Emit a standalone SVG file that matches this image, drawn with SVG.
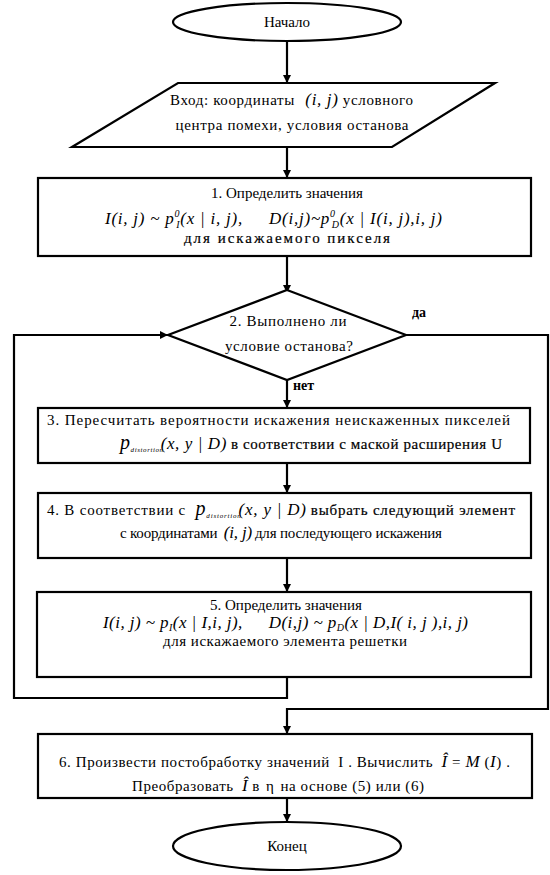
<svg xmlns="http://www.w3.org/2000/svg" width="550" height="875" viewBox="0 0 550 875">
<defs>
<marker id="ah" markerWidth="8" markerHeight="8" refX="8" refY="4" orient="auto" markerUnits="userSpaceOnUse">
<path d="M0,0 L8,4 L0,8 Z" fill="#000"/>
</marker>
<style>
.sh{fill:#fff;stroke:#000;stroke-width:2.2}
.t{font-family:"Liberation Serif","Times New Roman",serif;font-size:15px;fill:#000;text-anchor:middle}
.l{font-family:"Liberation Serif","Times New Roman",serif;font-size:15px;fill:#000}
.m{font-family:"Liberation Serif","Times New Roman",serif;font-size:17px;font-style:italic;fill:#000}
.n{font-style:normal;font-size:15px}
.h{stroke:#000;stroke-width:0.2}
.s{font-size:10px}
.c{fill:none;stroke:#000;stroke-width:2.2}
.lb{font-family:"Liberation Serif","Times New Roman",serif;font-size:14px;font-weight:bold;fill:#000}
</style>
</defs>
<g id="connectors">
<path class="c" d="M287,42 V83" marker-end="url(#ah)"/>
<path class="c" d="M287,147 V178" marker-end="url(#ah)"/>
<path class="c" d="M287,256 V293" marker-end="url(#ah)"/>
<path class="c" d="M287,380 V408" marker-end="url(#ah)"/>
<path class="c" d="M287,463 V493" marker-end="url(#ah)"/>
<path class="c" d="M287,558 V592" marker-end="url(#ah)"/>
<path class="c" d="M287,677 V698 H14 V335 H168" marker-end="url(#ah)"/>
<path class="c" d="M406,335 H548 V709 H287 V734" marker-end="url(#ah)"/>
<path class="c" d="M287,798 V822" marker-end="url(#ah)"/>
<text class="lb" x="412" y="317">да</text>
<text class="lb" x="293" y="390">нет</text>
</g>
<g id="start">
<ellipse class="sh" cx="287" cy="22" rx="114" ry="19"/>
<text class="t" x="287" y="27">Начало</text>
</g>
<g id="input">
<polygon class="sh" points="178,83 495,83 392,147 72,147"/>
<text class="l" x="170" y="105" textLength="243" lengthAdjust="spacing">Вход: координаты <tspan class="m" dx="6">(i, j)</tspan> условного</text>
<text class="t" x="292" y="130" textLength="233" lengthAdjust="spacing">центра помехи, условия останова</text>
</g>
<g id="step1">
<rect class="sh" x="38" y="178" width="493" height="78"/>
<text class="t" x="287" y="198">1. Определить значения</text>
<text class="m" x="105" y="224" textLength="337" lengthAdjust="spacing">I(i, j) ~ p<tspan class="s" dy="-7">0</tspan><tspan class="s" dx="-4" dy="11">I</tspan><tspan dy="-4">(x | i, j),</tspan><tspan dx="26">D(i,j)~p</tspan><tspan class="s" dy="-7">0</tspan><tspan class="s" dx="-4" dy="11">D</tspan><tspan dy="-4">(x | I(i, j),i, j)</tspan></text>
<text class="t h" x="287" y="243" textLength="206" lengthAdjust="spacing">для искажаемого  пикселя</text>
</g>
<g id="decision">
<polygon class="sh" points="287,290 406,335 287,380 168,335"/>
<text class="t" x="288" y="326" textLength="117" lengthAdjust="spacing">2. Выполнено ли</text>
<text class="t" x="289" y="351" textLength="128" lengthAdjust="spacing">условие останова?</text>
</g>
<g id="step3">
<rect class="sh" x="38" y="408" width="492" height="55"/>
<text class="l" x="47" y="425" textLength="463" lengthAdjust="spacing">3. Пересчитать вероятности искажения неискаженных пикселей</text>
<text class="m" x="120" y="449" textLength="382" lengthAdjust="spacing"><tspan font-size="20">p</tspan><tspan font-size="7" dy="3">distortion</tspan><tspan dy="-3" dx="-3">(x, y | D)</tspan><tspan class="n h" dx="4">в соответствии с маской расширения U</tspan></text>
</g>
<g id="step4">
<rect class="sh" x="38" y="493" width="493" height="65"/>
<text class="m" x="47" y="515" textLength="468" lengthAdjust="spacing"><tspan class="n">4. В соответствии с </tspan><tspan font-size="20" dx="5">p</tspan><tspan font-size="7" dy="3">distortion</tspan><tspan dy="-3" dx="-3">(x, y | D)</tspan><tspan class="n h" dx="4">выбрать следующий элемент</tspan></text>
<text class="l" x="120" y="538" textLength="322" lengthAdjust="spacing"><tspan>с координатами </tspan><tspan class="m" dx="3">(i, j)</tspan><tspan dx="3">для последующего  искажения</tspan></text>
</g>
<g id="step5">
<rect class="sh" x="37" y="592" width="494" height="85"/>
<text class="t" x="286" y="610">5. Определить значения</text>
<text class="m" x="103" y="628" textLength="365" lengthAdjust="spacing">I(i, j) ~ p<tspan class="s" dy="3">I</tspan><tspan dy="-3">(x | I,i, j),</tspan><tspan dx="26">D(i,j) ~ p</tspan><tspan class="s" dy="3">D</tspan><tspan dy="-3">(x | D,I( i, j ),i, j)</tspan></text>
<text class="t" x="285" y="646" textLength="244" lengthAdjust="spacing">для искажаемого  элемента решетки</text>
</g>
<g id="step6">
<rect class="sh" x="38" y="734" width="494" height="64"/>
<text class="l" x="59" y="767" textLength="451" lengthAdjust="spacing">6. Произвести постобработку значений <tspan dx="4">I</tspan> . Вычислить <tspan class="m" dx="4">Î</tspan> = <tspan class="m">M</tspan> (<tspan class="m">I</tspan>) .</text>
<text class="l" x="132" y="791" textLength="292" lengthAdjust="spacing">Преобразовать <tspan class="m" dx="4">Î</tspan><tspan dx="4">в</tspan><tspan dx="6">η</tspan><tspan dx="6">на основе (5) или (6)</tspan></text>
</g>
<g id="end">
<ellipse class="sh" cx="287" cy="846" rx="114" ry="24"/>
<text class="t" x="287" y="851">Конец</text>
</g>
</svg>
